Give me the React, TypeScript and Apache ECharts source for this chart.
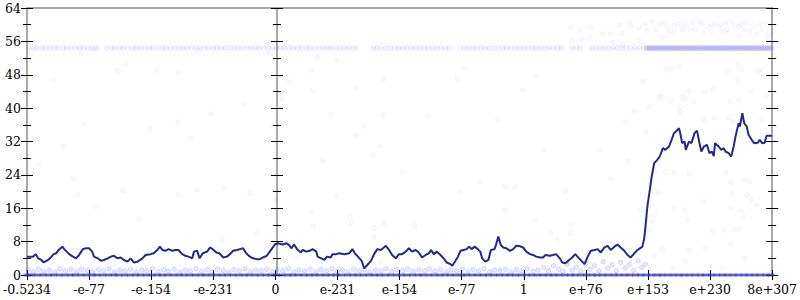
import React, { useEffect, useRef } from "react";
import * as echarts from "echarts";

const xTickLabels = ["-0.5234", "-e-77", "-e-154", "-e-231", "0", "e-231", "e-154", "e-77", "1", "e+76", "e+153", "e+230", "8e+307"];

const trendPoints: [number, number][] = [
  [0, 4.4], [0.1, 4.4], [0.14, 5.0], [0.18, 4.0], [0.23, 3.6], [0.27, 3.0], [0.34, 3.6], [0.37, 4.0], [0.43, 5.0], [0.47, 5.2], [0.51, 6.0], [0.57, 6.8], [0.6, 6.2], [0.64, 5.6], [0.68, 5.0], [0.74, 4.4], [0.79, 4.0], [0.83, 4.6], [0.9, 6.2], [0.95, 6.4], [1.0, 6.4], [1.05, 5.6], [1.08, 4.4], [1.14, 4.0], [1.19, 3.4], [1.24, 3.6], [1.3, 4.0], [1.35, 4.4], [1.4, 4.6], [1.46, 4.0], [1.51, 4.2], [1.56, 3.6], [1.62, 3.2], [1.67, 4.0], [1.72, 3.0], [1.78, 3.2], [1.86, 4.0], [1.91, 4.8], [1.99, 5.0],
  [2.04, 5.2], [2.1, 6.0], [2.14, 6.8], [2.18, 6.0], [2.23, 5.8], [2.28, 6.2], [2.34, 5.8], [2.39, 6.0], [2.44, 6.0], [2.5, 5.0], [2.55, 4.6], [2.6, 4.4], [2.66, 4.0], [2.69, 5.6], [2.74, 5.8], [2.78, 4.0], [2.83, 5.2], [2.9, 5.6], [2.95, 6.6], [2.99, 6.2], [3.05, 5.4], [3.1, 5.2], [3.16, 4.2], [3.22, 4.4], [3.27, 5.0], [3.32, 5.8], [3.38, 6.0], [3.43, 6.2], [3.48, 6.4], [3.53, 5.2], [3.59, 4.4], [3.64, 4.0], [3.7, 3.8], [3.75, 3.8], [3.8, 4.2], [3.86, 4.6], [3.91, 5.6], [3.96, 6.6],
  [3.99, 7.3], [4.04, 7.6], [4.12, 7.3], [4.18, 7.6], [4.23, 7.0], [4.26, 6.4], [4.3, 7.3], [4.35, 6.2], [4.41, 5.4], [4.44, 6.0], [4.5, 5.6], [4.55, 5.8], [4.6, 6.2], [4.66, 5.6], [4.68, 4.4], [4.74, 4.0], [4.79, 3.6], [4.83, 4.4], [4.89, 4.2], [4.92, 5.0], [4.98, 5.0], [5.03, 5.2], [5.11, 5.0], [5.19, 5.2], [5.24, 6.2], [5.28, 5.2], [5.33, 4.4], [5.39, 3.4], [5.43, 1.6], [5.48, 2.4], [5.54, 3.4], [5.59, 5.0], [5.64, 6.2], [5.7, 6.0], [5.78, 7.0], [5.83, 6.0], [5.88, 4.8], [5.94, 4.0],
  [5.99, 5.0], [6.04, 5.0], [6.1, 5.6], [6.15, 6.4], [6.2, 5.6], [6.26, 6.0], [6.31, 5.4], [6.36, 4.2], [6.42, 4.8], [6.47, 5.2], [6.51, 6.0], [6.55, 5.0], [6.6, 5.6], [6.66, 4.8], [6.71, 4.0], [6.76, 3.0], [6.82, 2.6], [6.85, 2.2], [6.9, 3.4], [6.94, 4.4], [6.98, 5.8], [7.03, 6.0], [7.08, 6.2], [7.12, 6.8], [7.16, 6.2], [7.21, 6.8], [7.26, 6.2], [7.3, 5.6], [7.33, 4.0], [7.38, 3.2], [7.43, 3.6], [7.47, 6.0], [7.53, 6.2], [7.56, 7.6], [7.59, 9.2], [7.63, 7.2], [7.67, 6.6], [7.72, 6.4], [7.78, 5.8], [7.83, 6.2], [7.88, 7.0], [7.94, 6.9], [7.99, 6.6],
  [8.04, 5.6], [8.1, 5.0], [8.15, 4.8], [8.2, 4.4], [8.26, 4.2], [8.31, 4.2], [8.35, 4.8], [8.42, 4.6], [8.47, 4.8], [8.52, 5.0], [8.58, 4.0], [8.62, 3.0], [8.67, 2.8], [8.73, 3.6], [8.78, 4.2], [8.83, 5.0], [8.89, 4.0], [8.94, 3.2], [8.98, 2.6], [9.03, 4.4], [9.08, 5.8], [9.14, 6.0], [9.19, 6.2], [9.24, 5.4], [9.3, 6.6], [9.35, 7.0], [9.4, 6.0], [9.46, 6.8], [9.51, 7.3], [9.56, 6.6], [9.62, 5.8], [9.67, 4.8], [9.72, 4.2], [9.78, 5.2], [9.83, 6.0], [9.87, 6.4], [9.91, 6.8], [9.94, 8.8], [9.96, 11.6], [9.99, 16.4],
  [10.03, 20.4], [10.06, 23.6], [10.1, 26.8], [10.15, 27.6], [10.19, 28.4], [10.24, 30.4], [10.28, 30.0], [10.34, 30.8], [10.38, 32.4], [10.42, 34.0], [10.45, 34.4], [10.5, 35.2], [10.52, 34.0], [10.55, 31.6], [10.59, 32.0], [10.61, 30.0], [10.66, 32.0], [10.7, 31.6], [10.72, 32.5], [10.75, 34.0], [10.79, 34.6], [10.83, 31.6], [10.86, 29.6], [10.9, 30.8], [10.95, 31.2], [10.99, 29.2], [11.03, 29.6], [11.06, 28.5], [11.08, 31.6], [11.14, 30.8], [11.18, 30.0], [11.22, 30.4], [11.25, 29.6], [11.3, 29.2], [11.34, 28.4], [11.38, 30.8], [11.41, 33.2], [11.46, 36.4], [11.48, 35.6], [11.52, 38.8], [11.55, 36.4], [11.59, 35.6], [11.62, 33.6], [11.67, 32.4], [11.71, 31.6], [11.77, 31.7], [11.8, 32.4], [11.84, 31.6], [11.88, 31.7], [11.91, 33.4], [12.0, 33.4],
];

const zeroBandX = [0.0, 0.08, 0.17, 0.26, 0.35, 0.43, 0.52, 0.61, 0.7, 0.78, 0.87, 0.96, 1.05, 1.13, 1.22, 1.31, 1.4, 1.48, 1.57, 1.66, 1.75, 1.83, 1.92, 2.01, 2.1, 2.18, 2.27, 2.36, 2.45, 2.53, 2.62, 2.71, 2.8, 2.88, 2.97, 3.06, 3.15, 3.23, 3.32, 3.41, 3.5, 3.58, 3.67, 3.76, 3.85, 3.93, 4.02, 4.11, 4.2, 4.28, 4.37, 4.46, 4.55, 4.63, 4.72, 4.81, 4.9, 4.98, 5.07, 5.16, 5.25, 5.33, 5.42, 5.51, 5.6, 5.68, 5.77, 5.86, 5.95, 6.03, 6.12, 6.21, 6.3, 6.38, 6.47, 6.56, 6.65, 6.73, 6.82, 6.91, 7.0, 7.08, 7.17, 7.26, 7.35, 7.43, 7.52, 7.61, 7.7, 7.78, 7.87, 7.96, 8.05, 8.13, 8.22, 8.31, 8.4, 8.48, 8.57, 8.66, 8.75, 8.83, 8.92, 9.01, 9.1, 9.18, 9.27, 9.36, 9.45, 9.53, 9.62, 9.71, 9.8, 9.88, 9.97, 10.06, 10.15, 10.23, 10.32, 10.41, 10.5, 10.58, 10.67, 10.76, 10.85, 10.93, 11.02, 11.11, 11.2, 11.28, 11.37, 11.46, 11.55, 11.63, 11.72, 11.81, 11.9, 11.98];

const lowBand: [number, number][] = [
  [0.02, 1.3], [0.1, 0.8], [0.19, 1.4], [0.27, 0.9], [0.36, 1.2], [0.45, 0.7], [0.53, 1.5], [0.62, 1.0], [0.71, 1.3], [0.8, 0.8], [0.88, 1.4], [0.97, 1.1], [1.06, 0.7], [1.15, 1.3], [1.23, 1.0], [1.32, 1.5], [1.41, 0.8], [1.5, 1.2], [1.58, 1.0], [1.67, 1.4], [1.76, 0.7], [1.85, 1.2], [1.93, 1.0], [2.02, 1.5], [2.11, 0.8], [2.2, 1.3], [2.28, 1.0], [2.37, 1.4], [2.46, 0.7], [2.55, 1.2], [2.63, 1.0], [2.72, 1.5], [2.81, 0.9], [2.9, 1.3], [2.98, 0.8], [3.07, 1.4], [3.16, 1.1], [3.25, 0.7], [3.33, 1.3], [3.42, 1.0], [3.51, 1.5], [3.6, 0.8], [3.68, 1.2], [3.77, 1.0], [3.86, 1.4], [3.95, 0.8],
  [4.03, 1.3], [4.12, 1.0], [4.21, 1.5], [4.3, 0.8], [4.38, 1.2], [4.47, 1.0], [4.56, 1.4], [4.65, 0.7], [4.73, 1.3], [4.82, 1.0], [4.91, 1.5], [5.0, 0.9], [5.08, 1.2], [5.17, 0.8], [5.26, 1.4], [5.35, 1.0], [5.43, 1.3], [5.52, 0.7], [5.61, 1.2], [5.7, 1.0], [5.78, 1.5], [5.87, 0.8], [5.96, 1.3], [6.05, 1.0], [6.13, 1.4], [6.22, 0.8], [6.31, 1.2], [6.4, 1.0], [6.48, 1.5], [6.57, 0.9], [6.66, 1.3], [6.75, 0.7], [6.83, 1.2], [6.92, 1.0], [7.01, 1.4], [7.1, 0.8], [7.18, 1.3], [7.27, 1.0], [7.36, 1.5], [7.45, 0.8], [7.53, 1.2], [7.62, 1.0], [7.71, 1.4], [7.8, 0.7], [7.88, 1.3], [7.97, 1.0],
  [8.06, 1.5], [8.15, 0.9], [8.23, 1.2], [8.32, 1.8], [8.4, 1.0], [8.48, 2.2], [8.56, 1.4], [8.63, 0.8], [8.7, 2.6], [8.78, 1.2], [8.85, 1.9], [8.92, 0.9], [9.0, 2.8], [9.07, 1.4], [9.14, 2.2], [9.21, 1.0], [9.28, 3.2], [9.35, 1.6], [9.42, 2.4], [9.49, 1.0], [9.56, 3.0], [9.63, 1.7], [9.7, 2.5], [9.77, 1.1], [9.84, 3.4], [9.9, 1.8], [9.96, 2.6],
];

const upperBandY = 54.4;
const upperBandX = [0.03, 0.1, 0.16, 0.24, 0.3, 0.37, 0.44, 0.5, 0.58, 0.64, 0.71, 0.78, 0.85, 0.91, 0.98, 1.05, 1.12, 1.28, 1.35, 1.41, 1.49, 1.55, 1.62, 1.7, 1.76, 1.83, 1.9, 1.97, 2.03, 2.1, 2.18, 2.24, 2.31, 2.38, 2.45, 2.52, 2.58, 2.65, 2.72, 2.79, 2.86, 2.92, 3.0, 3.06, 3.13, 3.2, 3.27, 3.34, 3.4, 3.47, 3.54, 3.61, 3.68, 3.74, 3.81, 3.88, 3.95, 4.02, 4.08, 4.15, 4.22, 4.29, 4.36, 4.42, 4.5, 4.56, 4.63, 4.7, 4.77, 4.84, 4.9, 4.97, 5.04, 5.11, 5.18, 5.25, 5.31, 5.58, 5.64, 5.71, 5.78, 5.85, 5.92, 5.98, 6.05, 6.12, 6.19, 6.26, 6.33, 6.4, 6.46, 6.53, 6.6, 6.67, 6.74, 6.8, 6.97, 7.04, 7.11, 7.18, 7.24, 7.31, 7.38, 7.45, 7.52, 7.59, 7.66, 7.72, 7.79, 7.86, 7.93, 8.0, 8.07, 8.14, 8.2, 8.27, 8.34, 8.41, 8.48, 8.55, 8.61, 8.78, 8.85, 8.91, 9.09, 9.16, 9.23, 9.3, 9.37, 9.44, 9.51, 9.58, 9.65, 9.72, 9.79, 9.86, 9.93];
const upperDenseX = [9.98, 10.02, 10.06, 10.1, 10.14, 10.18, 10.22, 10.26, 10.3, 10.34, 10.38, 10.42, 10.46, 10.5, 10.54, 10.58, 10.62, 10.66, 10.7, 10.74, 10.78, 10.82, 10.86, 10.9, 10.94, 10.98, 11.02, 11.06, 11.1, 11.14, 11.18, 11.22, 11.26, 11.3, 11.34, 11.38, 11.42, 11.46, 11.5, 11.54, 11.58, 11.62, 11.66, 11.7, 11.74, 11.78, 11.82, 11.86, 11.9, 11.94, 11.98];

const upperCloud: [number, number][] = [
  [8.76, 59.4], [8.9, 58.6], [9.08, 59.4], [9.06, 57.1], [9.27, 57.8], [9.4, 57.8], [9.54, 59.9], [9.58, 57.9], [9.7, 60.5], [9.74, 59.7], [9.86, 59.4], [9.95, 60.2], [9.99, 58.6], [10.07, 60.7], [10.12, 58.9], [10.18, 60.3], [10.26, 60.5], [10.31, 59.4], [10.35, 58.3], [10.42, 59.9], [10.49, 60.2], [10.55, 58.9], [10.6, 59.9], [10.72, 60.5], [10.76, 58.9], [10.83, 60.7], [10.87, 60.2], [10.9, 58.1], [10.98, 59.4], [11.03, 58.3], [11.09, 60.2], [11.16, 59.7], [11.19, 58.3], [11.25, 60.3], [11.29, 57.9], [11.35, 60.7], [11.4, 59.9], [11.46, 59.4], [11.5, 60.2], [11.55, 58.9], [11.59, 60.5], [11.64, 58.3], [11.7, 59.9], [11.75, 57.9], [11.8, 60.2], [11.84, 58.9], [11.91, 60.2], [11.94, 57.9], [11.93, 57.0], [11.46, 57.0], [11.27, 58.9], [11.02, 60.2], [10.68, 58.7], [10.42, 58.3], [10.23, 57.1], [9.59, 55.1], [9.43, 55.7], [9.86, 56.3], [8.94, 56.7], [8.78, 56.2],
];

const sparsePoints: [number, number][] = [
  [0.42, 46.7], [0.87, 53.1], [0.59, 30.8], [0.92, 36.2], [1.47, 49.0], [1.59, 50.5], [1.98, 35.0], [2.09, 49.1], [2.44, 48.5], [2.43, 36.7], [2.63, 32.8], [2.96, 38.6], [3.5, 40.9], [3.9, 53.0], [3.95, 35.9], [4.09, 42.1], [2.76, 53.8], [1.07, 53.9],
  [4.67, 52.2], [4.98, 51.4], [4.58, 49.1], [4.23, 46.3], [4.6, 44.3], [5.3, 44.7], [5.74, 46.9], [4.9, 38.4], [5.74, 38.4], [6.45, 38.2], [5.42, 35.7], [5.3, 33.5], [5.69, 30.9], [6.93, 47.1], [7.05, 49.5], [7.58, 37.3], [7.98, 44.3], [8.19, 47.8], [8.32, 30.0],
  [10.31, 49.5], [10.38, 49.5], [10.5, 49.9], [9.92, 46.5], [10.66, 44.2], [10.91, 43.9], [11.05, 44.5], [11.28, 48.9], [11.45, 50.5], [11.51, 49.3], [11.45, 46.5], [11.78, 48.9], [11.82, 49.3], [11.67, 44.2], [11.91, 43.1], [10.18, 42.5], [10.22, 42.9], [10.36, 41.8], [10.56, 42.9], [10.59, 42.1], [10.74, 41.5], [11.32, 41.8], [11.47, 41.8], [10.02, 40.2], [10.52, 40.2], [9.78, 39.3], [10.52, 39.1], [10.9, 37.3], [11.07, 37.7], [11.31, 37.8], [11.37, 36.7], [11.83, 37.3], [9.64, 36.7], [9.96, 34.3], [9.23, 30.0],
  [9.67, 27.2], [9.4, 23.2], [8.67, 20.2], [8.76, 12.0], [8.75, 10.0], [8.44, 10.0], [8.53, 8.4], [10.11, 24.8], [10.28, 24.8], [10.43, 24.5], [10.67, 24.2], [10.17, 19.7], [10.1, 14.4], [10.08, 12.8], [10.0, 10.8], [10.42, 16.0], [10.59, 15.6], [10.63, 13.3], [10.9, 17.6], [11.04, 10.6], [11.22, 10.8], [11.25, 24.5], [11.34, 22.1], [11.35, 19.6], [11.34, 16.0], [11.5, 15.3], [11.39, 11.0], [11.48, 11.0], [11.56, 22.9], [11.64, 22.4], [11.59, 19.2], [11.67, 18.1], [11.75, 16.8], [11.54, 14.0], [11.88, 25.2], [11.94, 23.2], [10.1, 4.6], [10.23, 6.2], [10.66, 6.0], [10.92, 6.4], [10.6, 3.2], [10.4, 1.6], [11.19, 1.6], [11.56, 4.0], [11.34, 7.4], [9.88, 15.4],
  [0.2, 26.4], [0.75, 23.2], [0.82, 19.2], [1.11, 16.4], [1.55, 20.2], [1.81, 13.3], [2.44, 19.3], [2.74, 20.4], [3.16, 20.8], [3.59, 19.6], [3.14, 8.6], [3.7, 10.0], [4.02, 18.0],
  [4.76, 27.4], [5.57, 28.8], [6.04, 24.8], [4.99, 19.0], [4.59, 15.0], [4.61, 11.7], [5.2, 14.0], [5.22, 12.5], [5.75, 12.5], [5.58, 9.2], [5.59, 11.2], [6.24, 11.8], [6.98, 20.0], [7.29, 22.4], [7.7, 21.2], [7.7, 15.6], [7.86, 21.0], [8.19, 13.0], [4.34, 4.4], [5.7, 3.2], [7.62, 1.6], [8.39, 1.6],
];

const FONT = "'DejaVu Serif', 'Liberation Serif', serif";
const GRAY = "#a9a9a9";
const BLACK = "#000";

function yAxisConf(position: string, inside: boolean, withLabel: boolean, withLine: boolean, offset = 0) {
  return {
    type: "value",
    min: 0,
    max: 64,
    interval: 8,
    position,
    offset,
    axisLine: { show: withLine, onZero: false, lineStyle: { color: GRAY, width: 2 } },
    axisTick: { show: true, inside, length: 6, lineStyle: { color: BLACK, width: 1 } },
    minorTick: { show: true, splitNumber: 2, length: 4, lineStyle: { color: BLACK, width: 1 } },
    axisLabel: { show: withLabel, color: BLACK, fontFamily: FONT, fontSize: 12.5, margin: 6 },
    splitLine: { show: false },
    minorSplitLine: { show: false },
  };
}

function xAxisConf(position: string, inside: boolean, withLabel: boolean, withLine: boolean, withTick: boolean) {
  return {
    type: "value",
    min: 0,
    max: 12,
    interval: 1,
    position,
    axisLine: { show: withLine, onZero: false, lineStyle: { color: GRAY, width: 2 } },
    axisTick: { show: withTick, inside, length: 5, lineStyle: { color: BLACK, width: 1 } },
    axisLabel: {
      show: withLabel,
      color: BLACK,
      fontFamily: FONT,
      fontSize: 12.5,
      margin: 8,
      formatter: (v: number) => xTickLabels[Math.round(v)] ?? "",
    },
    splitLine: { show: false },
  };
}

const faint = { color: "rgba(80,80,255,0.035)", borderColor: "rgba(80,80,255,0.09)", borderWidth: 0.8 };

export default function App() {
  const ref = useRef<HTMLDivElement>(null);
  useEffect(() => {
    if (!ref.current) return;
    const chart = echarts.init(ref.current, null, { renderer: "svg" });
    chart.setOption({
      animation: false,
      grid: { left: 24, right: 26, top: 8, bottom: 25, containLabel: false },
      xAxis: [
        xAxisConf("bottom", false, true, true, true),
        xAxisConf("bottom", true, false, false, true),
        xAxisConf("top", false, false, true, false),
      ],
      yAxis: [
        yAxisConf("left", false, true, true),
        yAxisConf("left", true, false, false),
        yAxisConf("right", false, false, true),
        yAxisConf("right", true, false, false),
        yAxisConf("left", false, false, true, -250),
        yAxisConf("left", true, false, false, -250),
      ],
      series: [
        {
          type: "scatter",
          data: sparsePoints.concat(upperCloud),
          symbolSize: 4.5,
          itemStyle: faint,
          z: 2,
        },
        {
          type: "scatter",
          data: upperBandX.map((x) => [x, upperBandY]),
          symbolSize: 4.5,
          itemStyle: { color: "rgba(80,80,255,0.07)", borderColor: "rgba(80,80,255,0.16)", borderWidth: 0.8 },
          z: 2,
        },
        {
          type: "scatter",
          data: upperDenseX.map((x) => [x, upperBandY]),
          symbolSize: 5,
          itemStyle: { color: "rgba(70,70,245,0.2)", borderColor: "rgba(70,70,245,0.28)", borderWidth: 0.8 },
          z: 2,
        },
        {
          type: "scatter",
          data: lowBand,
          symbolSize: 4.5,
          itemStyle: { color: "rgba(80,80,255,0.16)", borderColor: "rgba(80,80,255,0.3)", borderWidth: 0.8 },
          z: 2,
        },
        {
          type: "scatter",
          data: zeroBandX.map((x) => [x, 0]),
          symbol: "rect",
          symbolSize: [7, 3],
          itemStyle: { color: "rgba(45,45,230,0.7)" },
          z: 3,
        },
        {
          type: "line",
          data: trendPoints,
          showSymbol: false,
          symbol: "none",
          lineStyle: { color: "#232a8c", width: 2 },
          z: 5,
        },
      ],
    });
    return () => chart.dispose();
  }, []);
  return <div ref={ref} style={{ position: "absolute", left: 0, top: 0, width: 800, height: 300 }} />;
}
